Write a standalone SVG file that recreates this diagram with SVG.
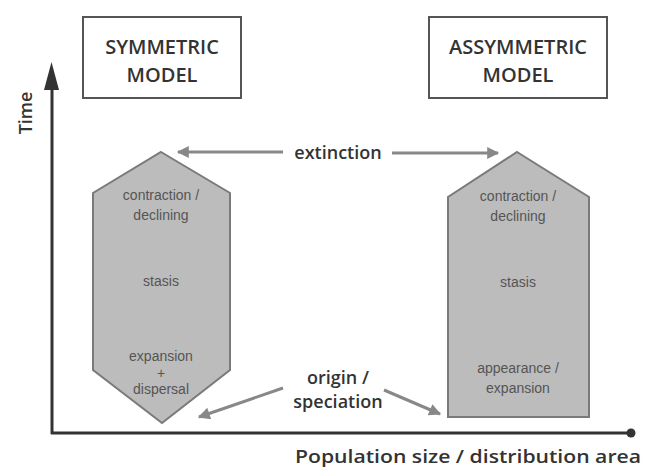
<svg xmlns="http://www.w3.org/2000/svg" width="646" height="469" viewBox="0 0 646 469">
<defs>
<style>
.title{font-family:"Open Sans","Liberation Sans",sans-serif;font-weight:600;font-size:20px;fill:#333;text-anchor:middle}
.lab{font-family:"Open Sans","Liberation Sans",sans-serif;font-weight:600;font-size:18px;fill:#333;text-anchor:middle}
.small{font-family:"Liberation Sans",sans-serif;font-size:14px;fill:#555;text-anchor:middle}
.box{fill:#fff;stroke:#555;stroke-width:2}
.shape{fill:#bcbcbc;stroke:#7a7a7a;stroke-width:2}
.axis{stroke:#333;stroke-width:3;fill:none}
.conn{stroke:#888;stroke-width:3;fill:none}
</style>
<marker id="ah" viewBox="0 0 10 10" refX="9" refY="5" markerWidth="5" markerHeight="4" orient="auto" markerUnits="strokeWidth">
<path d="M0,0 L10,5 L0,10 z" fill="#888"/>
</marker>
</defs>
<rect width="646" height="469" fill="#fff"/>
<g id="axes">
<line class="axis" x1="52" y1="434" x2="52" y2="80"/>
<path d="M44,90 L51.5,62 L59,90 z" fill="#333"/>
<line class="axis" x1="51" y1="433" x2="631" y2="433"/>
<circle cx="631" cy="433" r="4.5" fill="#333"/>
<text class="lab" transform="translate(32,113) rotate(-90)">Time</text>
<text class="lab" x="295" y="463" font-size="17" style="text-anchor:start" textLength="346" lengthAdjust="spacingAndGlyphs">Population size / distribution area</text>
</g>
<g id="symmetric-model">
<rect class="box" x="83" y="17" width="158" height="81"/>
<text class="title" x="162" y="54">SYMMETRIC</text>
<text class="title" x="162" y="82">MODEL</text>
</g>
<g id="assymmetric-model">
<rect class="box" x="429" y="17" width="178" height="81"/>
<text class="title" x="518" y="54">ASSYMMETRIC</text>
<text class="title" x="518" y="82">MODEL</text>
</g>
<g id="symmetric-shape">
<polygon class="shape" points="161,152 230,193 230,370 162,423 93,370 93,193"/>
<text class="small" x="161" y="200">contraction /</text>
<text class="small" x="161" y="220">declining</text>
<text class="small" x="161" y="286">stasis</text>
<text class="small" x="161" y="361">expansion</text>
<text class="small" x="161" y="378">+</text>
<text class="small" x="161" y="394">dispersal</text>
</g>
<g id="assymmetric-shape">
<polygon class="shape" points="517,152 589,197 589,417 448,417 448,197"/>
<text class="small" x="518" y="201">contraction /</text>
<text class="small" x="518" y="221">declining</text>
<text class="small" x="518" y="287">stasis</text>
<text class="small" x="518" y="373">appearance /</text>
<text class="small" x="518" y="393">expansion</text>
</g>
<g id="connectors">
<line class="conn" x1="283" y1="152" x2="178" y2="152" marker-end="url(#ah)"/>
<line class="conn" x1="392" y1="153" x2="498" y2="153" marker-end="url(#ah)"/>
<line class="conn" x1="283" y1="388" x2="199" y2="417" marker-end="url(#ah)"/>
<line class="conn" x1="384" y1="390" x2="440" y2="414" marker-end="url(#ah)"/>
</g>
<g id="labels">
<text class="lab" x="338" y="159">extinction</text>
<text class="lab" x="338" y="384" font-size="17">origin /</text>
<text class="lab" x="338" y="408" font-size="17">speciation</text>
</g>
</svg>
